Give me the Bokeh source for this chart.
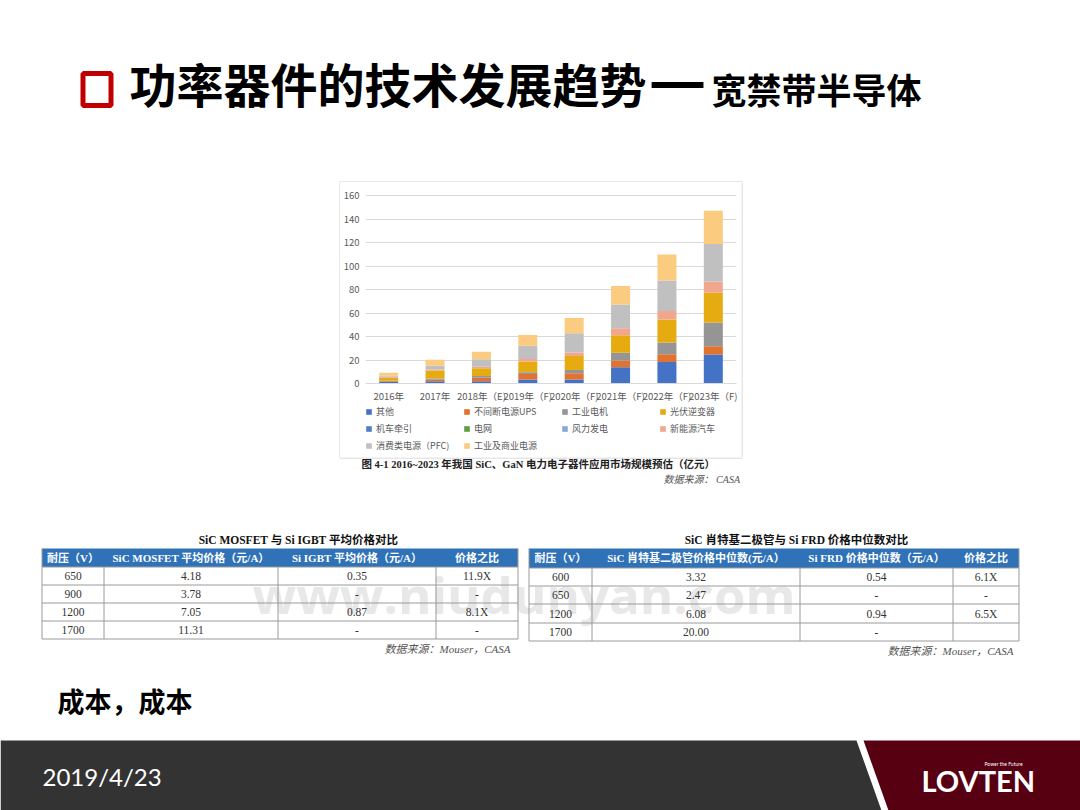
from bokeh.plotting import figure
from bokeh.models import (Range1d, ColumnDataSource, Legend, LegendItem,
                          SingleIntervalTicker)
from bokeh.layouts import column, row
from bokeh.embed import file_html
from bokeh.resources import INLINE
from bokeh.core.properties import value

# ---------------- data ----------------
years = ["2016年", "2017年", "2018年（E)", "2019年（F)", "2020年（F)",
         "2021年（F)", "2022年（F)", "2023年（F)"]
qita = [1.2, 2.0, 2.0, 3.5, 3.4, 13.9, 18.4, 24.7]          # 其他
ups = [0.8, 1.2, 3.0, 4.5, 5.4, 5.7, 6.6, 7.1]              # 不间断电源UPS
dianji = [0.4, 1.0, 1.3, 1.5, 2.8, 6.5, 9.9, 20.1]          # 工业电机
guangfu = [2.5, 6.8, 6.6, 9.3, 11.9, 15.0, 19.6, 25.3]      # 光伏逆变器
jiche = [0, 0, 0, 0, 0, 0, 0, 0]                            # 机车牵引
dianwang = [0, 0, 0, 0, 0, 0, 0, 0]                         # 电网
fengli = [0, 0, 0, 0, 0, 0, 0, 0]                           # 风力发电
xny = [0.8, 1.0, 1.4, 2.0, 2.9, 6.0, 7.3, 9.6]              # 新能源汽车
pfc = [1.2, 3.2, 6.3, 11.3, 16.4, 20.1, 25.9, 32.1]         # 消费类电源（PFC)
gydy = [2.2, 5.0, 6.4, 9.3, 13.1, 15.9, 22.1, 28.3]         # 工业及商业电源

series_keys = ["qita", "ups", "dianji", "guangfu", "jiche", "dianwang",
               "fengli", "xny", "pfc", "gydy"]
series_names = ["其他", "不间断电源UPS", "工业电机", "光伏逆变器", "机车牵引",
                "电网", "风力发电", "新能源汽车", "消费类电源（PFC)", "工业及商业电源"]
series_colors = ["#4472c4", "#e2722f", "#959595", "#e6ab10", "#4e7fbf",
                 "#5e9e45", "#8aa6d8", "#f0a78d", "#c0c0c0", "#fbcb80"]

t1_title = "SiC MOSFET 与 Si IGBT 平均价格对比"
t1_header = ["耐压（V）", "SiC MOSFET 平均价格（元/A）", "Si IGBT 平均价格（元/A）", "价格之比"]
t1_voltage = ["650", "900", "1200", "1700"]
t1_sic = ["4.18", "3.78", "7.05", "11.31"]
t1_si = ["0.35", "-", "0.87", "-"]
t1_ratio = ["11.9X", "-", "8.1X", "-"]

t2_title = "SiC 肖特基二极管与 Si FRD 价格中位数对比"
t2_header = ["耐压（V）", "SiC 肖特基二极管价格中位数(元/A）", "Si FRD 价格中位数（元/A）", "价格之比"]
t2_voltage = ["600", "650", "1200", "1700"]
t2_sic = ["3.32", "2.47", "6.08", "20.00"]
t2_si = ["0.54", "-", "0.94", "-"]
t2_ratio = ["6.1X", "-", "6.5X", ""]

CJK = "Noto Sans CJK SC"
SERIF = "Liberation Serif, Noto Sans CJK SC"
BOX = "#cfcfcf"


def blank(w, h, xr, yr, **kw):
    opts = dict(min_border=0, min_border_left=0, min_border_right=0,
                min_border_top=0, min_border_bottom=0)
    opts.update(kw)
    f = figure(width=w, height=h, x_range=Range1d(*xr), y_range=Range1d(*yr),
               output_backend="svg", toolbar_location=None, **opts)
    f.axis.visible = False
    f.grid.visible = False
    f.outline_line_color = None
    f.background_fill_color = "white"
    f.border_fill_color = "white"
    return f


# ---------------- header (slide y 0..182) ----------------
hdr = blank(1080, 182, (0, 1080), (182, 0))
hdr.quad(left=[82.5], right=[110.5], top=[73], bottom=[105], fill_color=None,
         line_color="#c00000", line_width=5)
hdr.text(x=[129], y=[82], text=["功率器件的技术发展趋势"], text_font=value(CJK),
         text_font_style="bold", text_font_size="47px", text_baseline="middle",
         text_align="left", text_color="#000000")
hdr.text(x=[648], y=[74], text=["—"], text_font=value(CJK),
         text_font_style="bold", text_font_size="64px", text_baseline="middle",
         text_align="left", text_color="#000000")
hdr.text(x=[711], y=[88], text=["宽禁带半导体"], text_font=value(CJK),
         text_font_style="bold", text_font_size="35px", text_baseline="middle",
         text_align="left", text_color="#000000")
hdr.segment(x0=[339], x1=[742], y0=[181.5], y1=[181.5], line_color=BOX, line_width=1)

# ---------------- chart row (slide y 182..457) ----------------
padL = blank(340, 275, (0, 340), (457, 182))
padL.segment(x0=[339.5], x1=[339.5], y0=[181], y1=[458], line_color=BOX, line_width=1)
padR = blank(339, 275, (741, 1080), (457, 182))
padR.segment(x0=[741.5], x1=[741.5], y0=[181], y1=[458], line_color=BOX, line_width=1)

src = ColumnDataSource(dict(year=years, qita=qita, ups=ups, dianji=dianji,
                            guangfu=guangfu, jiche=jiche, dianwang=dianwang,
                            fengli=fengli, xny=xny, pfc=pfc, gydy=gydy))
ch = figure(width=401, height=223, x_range=years, y_range=Range1d(0, 161),
            output_backend="svg", toolbar_location=None,
            min_border_left=23, min_border_right=5, min_border_top=12,
            min_border_bottom=22)
ch.outline_line_color = None
rs = ch.vbar_stack(series_keys, x="year", width=0.41, source=src,
                   fill_color=series_colors, line_color=None)
ch.yaxis.ticker = SingleIntervalTicker(interval=20, num_minor_ticks=0)
ch.xgrid.visible = False
ch.ygrid.grid_line_color = "#d9d9d9"
ch.yaxis.axis_line_color = None
ch.yaxis.major_tick_line_color = None
ch.yaxis.minor_tick_line_color = None
ch.yaxis.major_tick_out = 0
ch.yaxis.major_label_standoff = 6
ch.xaxis.axis_line_color = "#d9d9d9"
ch.xaxis.major_tick_line_color = None
ch.xaxis.major_tick_out = 0
ch.xaxis.major_label_standoff = 5
for ax in (ch.xaxis, ch.yaxis):
    ax.major_label_text_font = CJK
    ax.major_label_text_font_size = "9.5px"
    ax.major_label_text_color = "#595959"

# legend (separate strip under the chart, slide y 405..457)
lgf = blank(401, 52, (0, 1), (0, 1), min_border_left=9)
legend_rs = [lgf.vbar(x=[-5], top=[0], bottom=[0], width=0.1, fill_color=c, line_color=None)
             for c in series_colors]
legend = Legend(items=[LegendItem(label=n, renderers=[r]) for n, r in zip(series_names, legend_rs)],
                orientation="horizontal", ncols=4, location="top_left",
                margin=0, padding=0, spacing=4, label_standoff=4,
                glyph_width=7, glyph_height=7, label_height=13, label_width=83,
                label_text_font=CJK, label_text_font_size="9px",
                label_text_color="#595959", border_line_color=None,
                background_fill_alpha=0)
lgf.add_layout(legend)

# ---------------- bottom (slide y 457..810) ----------------
bot = blank(1080, 353, (0, 1080), (810, 457))
bot.segment(x0=[339], x1=[742], y0=[457.5], y1=[457.5], line_color=BOX, line_width=1)

# watermark
bot.text(x=[252], y=[593], text=["www.niudunyan.com"], text_font=value("Open Sans"),
         text_font_style="bold", text_font_size="51px", text_baseline="middle",
         text_align="left", text_color="#e8e8e8")

bot.text(x=[361], y=[464], text=["图 4-1   2016~2023 年我国 SiC、GaN 电力电子器件应用市场规模预估（亿元）"],
         text_font=value(SERIF), text_font_style="bold", text_font_size="10.5px",
         text_baseline="middle", text_align="left", text_color="#222222")
bot.text(x=[742], y=[479], text=["数据来源：  CASA"], text_font=value(SERIF),
         text_font_style="italic", text_font_size="10px", text_baseline="middle",
         text_align="right", text_color="#555555")


def draw_table(cols, hlines, title, title_x, header, colvals, note_x, note_y):
    top = hlines[0]
    hb = hlines[1]
    bottom = hlines[-1]
    bot.text(x=[title_x], y=[539], text=[title], text_font=value(SERIF),
             text_font_style="bold", text_font_size="11.5px", text_baseline="middle",
             text_align="center", text_color="#111111")
    bot.quad(left=[cols[0]], right=[cols[-1]], top=[top], bottom=[hb],
             fill_color="#2f72b8", line_color=None)
    centers = [(a + b) / 2 for a, b in zip(cols[:-1], cols[1:])]
    bot.text(x=centers, y=[(top + hb) / 2] * 4, text=header, text_font=value(SERIF),
             text_font_style="bold", text_font_size="11px", text_baseline="middle",
             text_align="center", text_color="white")
    bot.segment(x0=[cols[0]] * (len(hlines) - 1), x1=[cols[-1]] * (len(hlines) - 1),
                y0=hlines[1:], y1=hlines[1:], line_color="#9a9a9a", line_width=1)
    bot.segment(x0=cols, x1=cols, y0=[hb] * len(cols), y1=[bottom] * len(cols),
                line_color="#9a9a9a", line_width=1)
    bot.segment(x0=[cols[0], cols[-1]], x1=[cols[0], cols[-1]], y0=[top, top],
                y1=[hb, hb], line_color="#9a9a9a", line_width=1)
    ys = [(a + b) / 2 for a, b in zip(hlines[1:-1], hlines[2:])]
    for cx, vals in zip(centers, colvals):
        bot.text(x=[cx] * len(vals), y=ys, text=vals, text_font=value(SERIF),
                 text_font_size="11.5px", text_baseline="middle", text_align="center",
                 text_color="#333333")
    bot.text(x=[note_x], y=[note_y], text=["数据来源：Mouser，CASA"],
             text_font=value(SERIF), text_font_style="italic", text_font_size="11px",
             text_baseline="middle", text_align="right", text_color="#555555")


draw_table([41.5, 103.5, 277.5, 435.5, 517.5], [548, 566.5, 584.5, 602.5, 620.5, 638.5],
           t1_title, 298, t1_header, [t1_voltage, t1_sic, t1_si, t1_ratio], 510, 648)
draw_table([528.5, 591.5, 799.5, 952.5, 1018.5], [548, 567.5, 585.5, 603.5, 622.5, 640.5],
           t2_title, 796, t2_header, [t2_voltage, t2_sic, t2_si, t2_ratio], 1013, 650)

bot.text(x=[57], y=[700], text=["成本，成本"], text_font=value(CJK),
         text_font_style="bold", text_font_size="27px", text_baseline="middle",
         text_align="left", text_color="#000000")

# footer
bot.patch(x=[0, 856, 881, 0], y=[740, 740, 810, 810], fill_color="#333333", line_color=None)
bot.patch(x=[863, 1080, 1080, 888], y=[740, 740, 810, 810], fill_color="#560012", line_color=None)
bot.text(x=[42], y=[776], text=["2019/4/23"], text_font=value("Lato"),
         text_font_size="24px", text_baseline="middle", text_align="left",
         text_color="white")
bot.text(x=[921], y=[780], text=["LOVTEN"], text_font=value("Lato"),
         text_font_style="bold", text_font_size="29px", text_baseline="middle",
         text_align="left", text_color="white")
bot.text(x=[984], y=[763], text=["Power the Future"], text_font=value("Lato"),
         text_font_size="5px", text_baseline="middle", text_align="left",
         text_color="white")

layout = column(hdr, row(padL, column(ch, lgf), padR), bot)
open("out.html", "w").write(file_html(layout, INLINE))
